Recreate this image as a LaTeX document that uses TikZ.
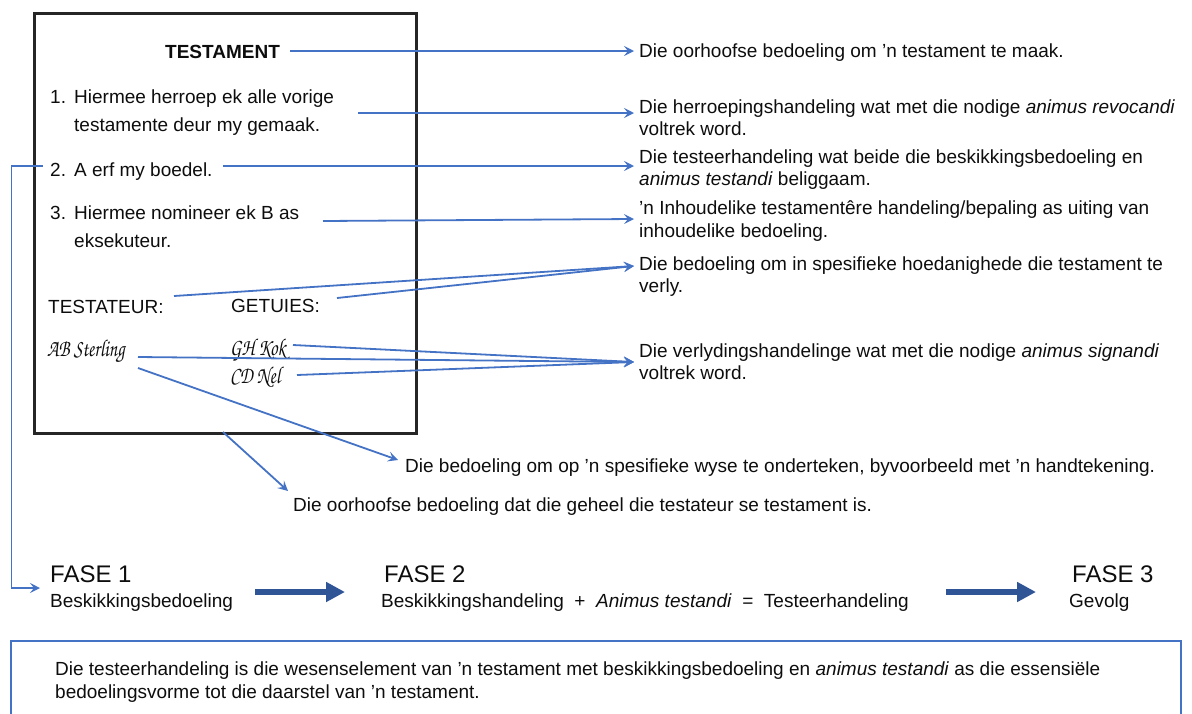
\documentclass[tikz,border=0pt]{standalone}
\usepackage[T1]{fontenc}
\usepackage{fontspec}
\setmainfont{Liberation Sans}
\usetikzlibrary{arrows.meta}
\definecolor{lnblue}{HTML}{4472C4}
\definecolor{dkblue}{HTML}{2F5597}
\definecolor{boxgray}{HTML}{262626}
\definecolor{txtblack}{HTML}{0D0D0D}
\newcommand{\sigfont}{\fontencoding{T1}\fontfamily{pzc}\fontseries{mb}\fontshape{it}\fontsize{21}{22}\selectfont}
\newcommand{\sigtext}[1]{\scalebox{0.88}[1.15]{#1}}
\begin{document}
\begin{tikzpicture}[x=1pt,y=-1pt,
  txt/.style={anchor=base west, inner sep=0pt, text=txtblack, font=\fontsize{19}{22}\selectfont},
  big/.style={anchor=base west, inner sep=0pt, text=txtblack, font=\fontsize{24}{28}\selectfont},
  sig/.style={anchor=base west, inner sep=0pt, text=txtblack, font=\sigfont},
  conn/.style={draw=lnblue, line width=1.8pt},
  arr/.style={conn, -{Stealth[length=10pt,width=10pt,inset=4pt]}},
  fat/.style={draw=dkblue, line width=6pt, -{Triangle[length=19pt,width=19pt]}}]
\useasboundingbox (0,0) rectangle (1192,713);

% document box
\node[draw=boxgray, line width=3pt, minimum width=382pt, minimum height=420pt,
      anchor=north west, inner sep=0pt] (doc) at (33,12) {};

\node[txt, font=\fontsize{19}{22}\selectfont\bfseries] (title) at (165,58) {TESTAMENT};
\node[txt] (n1) at (50,103) {1.};
\node[txt] (i1a) at (74,103) {Hiermee herroep ek alle vorige};
\node[txt] (i1b) at (74,131) {testamente deur my gemaak.};
\node[txt] (n2) at (50,176) {2.};
\node[txt] (i2) at (74,176) {A erf my boedel.};
\node[txt] (n3) at (50,219) {3.};
\node[txt] (i3a) at (74,219) {Hiermee nomineer ek B as};
\node[txt] (i3b) at (74,247) {eksekuteur.};
\node[txt] (testateur) at (48,313) {TESTATEUR:};
\node[txt] (getuies) at (231,312) {GETUIES:};
\node[sig] (absig) at (47,356) {\sigtext{AB Sterling}};
\node[sig] (ghsig) at (230,355) {\sigtext{GH Kok}};
\node[sig] (cdsig) at (230,383) {\sigtext{CD Nel}};

% right texts
\node[txt] (r1) at (639,57) {Die oorhoofse bedoeling om ’n testament te maak.};
\node[txt] (r2a) at (639,113) {Die herroepingshandeling wat met die nodige \textit{animus revocandi}};
\node[txt] (r2b) at (639,135) {voltrek word.};
\node[txt] (r3a) at (639,163) {Die testeerhandeling wat beide die beskikkingsbedoeling en};
\node[txt] (r3b) at (639,185) {\textit{animus testandi} beliggaam.};
\node[txt] (r4a) at (639,214) {’n Inhoudelike testamentêre handeling/bepaling as uiting van};
\node[txt] (r4b) at (639,237) {inhoudelike bedoeling.};
\node[txt] (r5a) at (639,270) {Die bedoeling om in spesifieke hoedanighede die testament te};
\node[txt] (r5b) at (639,292) {verly.};
\node[txt] (r6a) at (639,357) {Die verlydingshandelinge wat met die nodige \textit{animus signandi}};
\node[txt] (r6b) at (639,379) {voltrek word.};
\node[txt] (r7) at (405,472) {Die bedoeling om op ’n spesifieke wyse te onderteken, byvoorbeeld met ’n handtekening.};
\node[txt] (r8) at (293,511) {Die oorhoofse bedoeling dat die geheel die testateur se testament is.};

% connector points
\coordinate (s1) at (290,51);  \coordinate (t1) at (634,51);
\coordinate (s2) at (358,113); \coordinate (t2) at (634,113);
\coordinate (s3) at (223,166); \coordinate (t3) at (634,166);
\coordinate (s4) at (323,221); \coordinate (t4) at (634,219);
\coordinate (s5a) at (174,296); \coordinate (s5b) at (337,298); \coordinate (t5) at (634,266);
\coordinate (s6a) at (293,345); \coordinate (s6b) at (138,357); \coordinate (s6c) at (297,375); \coordinate (t6) at (634,362);
\coordinate (s7) at (138,368); \coordinate (t7) at (398,460);
\coordinate (s8) at (223,432); \coordinate (t8) at (288,491);
\coordinate (b1) at (43,166); \coordinate (b2) at (11.5,166); \coordinate (t9) at (40,588);

\draw[arr] (s1) -- (t1);
\draw[arr] (s2) -- (t2);
\draw[arr] (s3) -- (t3);
\draw[arr] (s4) -- (t4);
\draw[arr] (s5a) -- (t5);
\draw[arr] (s5b) -- (t5);
\draw[arr] (s6a) -- (t6);
\draw[arr] (s6b) -- (t6);
\draw[arr] (s6c) -- (t6);
\draw[arr] (s7) -- (t7);
\draw[arr] (s8) -- (t8);
\draw[arr] (b1) -- (b2) |- (t9);

% phases
\node[big] (f1) at (50,582) {FASE 1};
\node[txt] (f1b) at (50,607) {Beskikkingsbedoeling};
\node[big] (f2) at (384,582) {FASE 2};
\node[txt] (f2b) at (381,607) {Beskikkingshandeling \ + \ \textit{Animus testandi} \ = \ Testeerhandeling};
\node[big] (f3) at (1072,582) {FASE 3};
\node[txt] (f3b) at (1069,607) {Gevolg};
\coordinate (a1s) at (255,592); \coordinate (a1e) at (345,592);
\coordinate (a2s) at (946,592); \coordinate (a2e) at (1036,592);
\draw[fat] (a1s) -- (a1e);
\draw[fat] (a2s) -- (a2e);

% bottom box
\draw[draw=lnblue, line width=2pt] (11,720) -- (11,641) -- (1181,641) -- (1181,720);
\node[txt] (bt1) at (55,675) {Die testeerhandeling is die wesenselement van ’n testament met beskikkingsbedoeling en \textit{animus testandi} as die essensiële};
\node[txt] (bt2) at (55,698) {bedoelingsvorme tot die daarstel van ’n testament.};
\end{tikzpicture}
\end{document}
